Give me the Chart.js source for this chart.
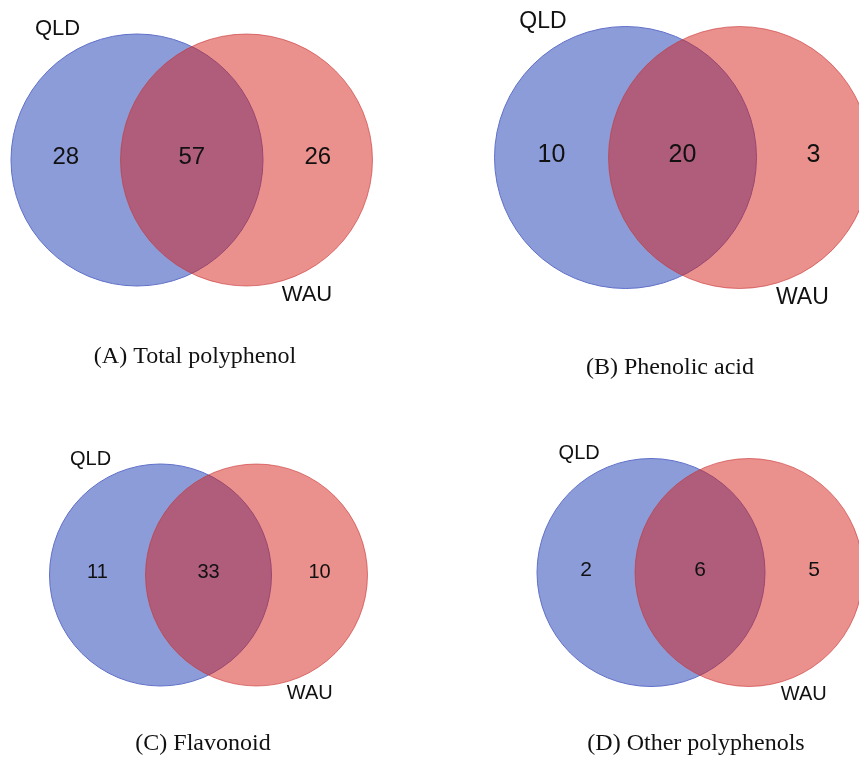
<!DOCTYPE html>
<html>
<head>
<meta charset="utf-8">
<script src="https://cdn.jsdelivr.net/npm/chart.js@4.4.0/dist/chart.umd.min.js"></script>
<style>
  html, body { margin: 0; padding: 0; background: #fff; }
  #wrap { width: 859px; height: 759px; }
</style>
</head>
<body>
<div id="wrap"><canvas id="venn" width="859" height="759"></canvas></div>
<script>
// chart data
const panelTitles = ['(A) Total polyphenol', '(B) Phenolic acid', '(C) Flavonoid', '(D) Other polyphenols'];
const setNames = ['QLD', 'WAU'];
const qldOnly = [28, 10, 11, 2];
const shared = [57, 20, 33, 6];
const wauOnly = [26, 3, 10, 5];

// layout of each panel, in page units (x 0..859, y 0..759)
const panelLayout = [
  { cx: 137, dx: 109.5, cy: 160, r: 126, num: 24, lab: 22, capX: 195, capY: 363 },
  { cx: 625.5, dx: 114, cy: 157.5, r: 131, num: 25, lab: 23, capX: 670, capY: 374 },
  { cx: 160.5, dx: 96, cy: 575, r: 111, num: 20, lab: 20, capX: 203, capY: 750 },
  { cx: 651, dx: 98, cy: 572.5, r: 114, num: 21, lab: 20, capX: 696, capY: 750 }
];

const radiusFromScale = (ctx) => {
  const s = ctx.chart.scales.x;
  if (!s || !ctx.raw) return 0;
  return Math.abs(s.getPixelForValue(ctx.raw.r) - s.getPixelForValue(0));
};

const vennText = {
  id: 'vennText',
  afterDatasetsDraw(chart) {
    const { ctx, scales: { x, y } } = chart;
    ctx.save();
    ctx.fillStyle = '#111';
    panelLayout.forEach((p, i) => {
      const sans = (size) => `${size}px "Liberation Sans", Arial, Helvetica, sans-serif`;
      ctx.textAlign = 'center';
      ctx.textBaseline = 'middle';

      ctx.font = sans(p.num);
      const ny = y.getPixelForValue(p.cy - 2.5);
      ctx.fillText(String(qldOnly[i]), x.getPixelForValue(p.cx - p.r + p.dx / 2), ny);
      ctx.fillText(String(shared[i]), x.getPixelForValue(p.cx + p.dx / 2), ny);
      ctx.fillText(String(wauOnly[i]), x.getPixelForValue(p.cx + p.r + p.dx / 2), ny);

      ctx.font = sans(p.lab);
      ctx.fillText(setNames[0], x.getPixelForValue(p.cx - 0.63 * p.r), y.getPixelForValue(p.cy - 1.04 * p.r));
      ctx.fillText(setNames[1], x.getPixelForValue(p.cx + p.dx + 0.48 * p.r), y.getPixelForValue(p.cy + 1.07 * p.r));

      ctx.font = '24px "Liberation Serif", "Times New Roman", serif';
      ctx.textBaseline = 'alphabetic';
      ctx.fillText(panelTitles[i], x.getPixelForValue(p.capX), y.getPixelForValue(p.capY));
    });
    ctx.restore();
  }
};

new Chart(document.getElementById('venn'), {
  type: 'scatter',
  data: {
    datasets: [
      {
        label: setNames[0],
        data: panelLayout.map(p => ({ x: p.cx, y: p.cy, r: p.r })),
        backgroundColor: 'rgb(140, 156, 217)',
        borderColor: 'rgb(96, 112, 200)',
        borderWidth: 1,
        pointRadius: radiusFromScale,
        pointHoverRadius: radiusFromScale,
        order: 2,
        clip: false
      },
      {
        label: setNames[1],
        data: panelLayout.map(p => ({ x: p.cx + p.dx, y: p.cy, r: p.r })),
        backgroundColor: 'rgba(212, 28, 22, 0.49)',
        borderColor: 'rgba(200, 50, 50, 0.6)',
        borderWidth: 1,
        pointRadius: radiusFromScale,
        pointHoverRadius: radiusFromScale,
        order: 1,
        clip: false
      }
    ]
  },
  options: {
    responsive: false,
    animation: false,
    events: [],
    layout: { padding: 0 },
    plugins: {
      legend: { display: false },
      tooltip: { enabled: false }
    },
    scales: {
      x: { type: 'linear', min: 0, max: 859, display: false },
      y: { type: 'linear', min: 0, max: 759, reverse: true, display: false }
    }
  },
  plugins: [vennText]
});
</script>
</body>
</html>
